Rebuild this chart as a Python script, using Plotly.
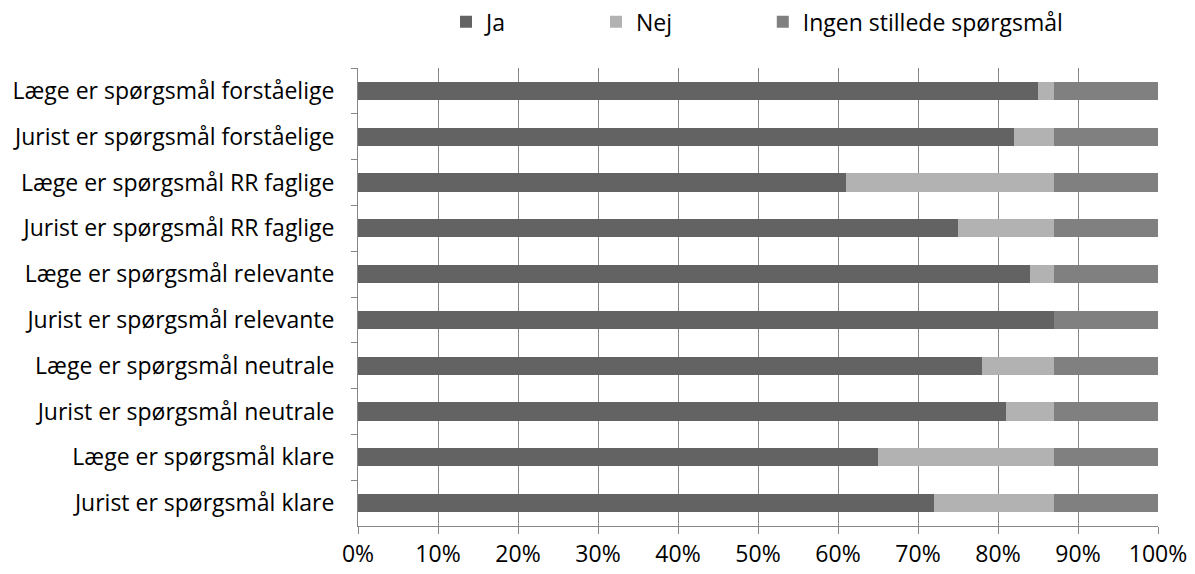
import plotly.graph_objects as go

categories = [
    "Læge er spørgsmål forståelige",
    "Jurist er spørgsmål forståelige",
    "Læge er spørgsmål RR faglige",
    "Jurist er spørgsmål RR faglige",
    "Læge er spørgsmål relevante",
    "Jurist er spørgsmål relevante",
    "Læge er spørgsmål neutrale",
    "Jurist er spørgsmål neutrale",
    "Læge er spørgsmål klare",
    "Jurist er spørgsmål klare",
]
ja = [85, 82, 61, 75, 84, 87, 78, 81, 65, 72]
nej = [2, 5, 26, 12, 3, 0, 9, 6, 22, 15]
ingen = [13, 13, 13, 13, 13, 13, 13, 13, 13, 13]

series = [
    ("Ja", ja, "#636363"),
    ("Nej", nej, "#b2b2b2"),
    ("Ingen stillede spørgsmål", ingen, "#808080"),
]

font_family = "'Open Sans', sans-serif"
font_size = 23
axis_grey = "#868686"

totals = [sum(v) for v in zip(ja, nej, ingen)]

# one legend box per series so the entries can be spaced freely
legend_ids = ["legend", "legend2", "legend3"]
legend_x = [0.11, 0.2975, 0.506]

fig = go.Figure()
for (name, vals, color), lid in zip(series, legend_ids):
    fig.add_trace(go.Bar(
        y=categories,
        x=[v / t for v, t in zip(vals, totals)],
        name=name,
        orientation="h",
        legend=lid,
        showlegend=True,
        marker=dict(color=color, line=dict(width=0)),
    ))

legend_common = dict(
    orientation="h",
    xanchor="left",
    y=0.962, yref="container", yanchor="middle",
    font=dict(size=font_size),
    itemwidth=30,
    bgcolor="rgba(0,0,0,0)",
    visible=True,
)

fig.update_layout(
    showlegend=True,
    barmode="stack",
    bargap=0.6,
    width=1195,
    height=574,
    paper_bgcolor="white",
    plot_bgcolor="white",
    margin=dict(l=358, r=37, t=68, b=48, autoexpand=False),
    font=dict(family=font_family, size=font_size, color="#000000"),
    xaxis=dict(
        range=[0, 1],
        dtick=0.1,
        tickformat=".0%",
        showgrid=True,
        gridcolor=axis_grey,
        gridwidth=1,
        showline=True,
        linecolor=axis_grey,
        ticks="outside",
        ticklen=7,
        tickcolor=axis_grey,
        zeroline=False,
        fixedrange=True,
        automargin=False,
    ),
    yaxis=dict(
        autorange="reversed",
        showline=True,
        linecolor=axis_grey,
        ticks="outside",
        ticklen=6,
        tickcolor=axis_grey,
        tickson="boundaries",
        showgrid=False,
        ticklabelstandoff=18,
        automargin=False,
    ),
)
for lid, lx in zip(legend_ids, legend_x):
    fig.update_layout({lid: dict(legend_common, x=lx)})

fig.write_html("out.html")
